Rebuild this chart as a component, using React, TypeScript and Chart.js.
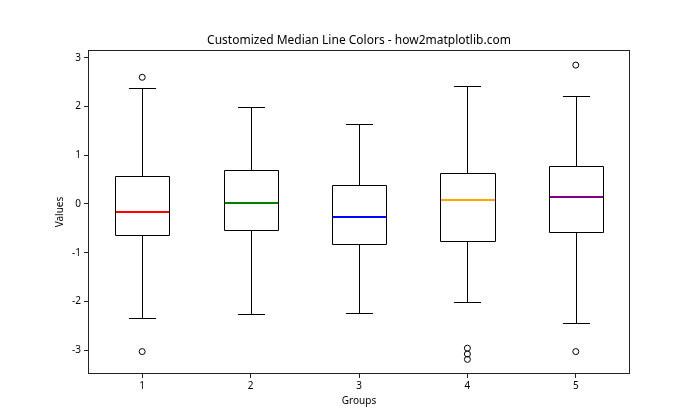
import React, { useEffect, useRef } from "react";
import { Chart, registerables } from "chart.js";

Chart.register(...registerables);

const categories = ["1", "2", "3", "4", "5"];
const whiskerLow = [-2.35, -2.25, -2.23, -2.02, -2.45];
const q1 = [-0.64, -0.54, -0.82, -0.77, -0.58];
const median = [-0.16, 0.02, -0.26, 0.08, 0.15];
const q3 = [0.57, 0.69, 0.38, 0.63, 0.78];
const whiskerHigh = [2.38, 1.99, 1.64, 2.42, 2.21];
const outlierGroups = ["1", "1", "4", "4", "4", "5", "5"];
const outlierValues = [2.6, -3.03, -2.96, -3.08, -3.19, 2.85, -3.03];
const medianColors = ["red", "green", "blue", "orange", "purple"];
const yTicks = [-3, -2, -1, 0, 1, 2, 3];
const titleText = "Customized Median Line Colors - how2matplotlib.com";

const FONT = "'Noto Sans', 'DejaVu Sans', sans-serif";

const boxPlugin = {
  id: "boxExtras",
  afterDatasetsDraw(chart: any) {
    const { ctx, chartArea, scales } = chart;
    const y = scales.y;
    const meta = chart.getDatasetMeta(0);
    ctx.save();
    ctx.lineWidth = 1;
    ctx.strokeStyle = "#000";
    meta.data.forEach((bar: any, i: number) => {
      const xc = Math.round(bar.x) + 0.5;
      const half = bar.width / 2;
      const cap = half / 2;
      const left = Math.round(bar.x - half) + 0.5;
      const right = Math.round(bar.x + half) + 0.5;
      const yHi = Math.round(y.getPixelForValue(whiskerHigh[i])) + 0.5;
      const yQ3 = Math.round(Math.min(bar.y, bar.base)) + 0.5;
      const yQ1 = Math.round(Math.max(bar.y, bar.base)) + 0.5;
      const yLo = Math.round(y.getPixelForValue(whiskerLow[i])) + 0.5;
      ctx.beginPath();
      ctx.rect(left, yQ3, right - left, yQ1 - yQ3);
      ctx.moveTo(xc, yQ3);
      ctx.lineTo(xc, yHi);
      ctx.moveTo(xc - cap, yHi);
      ctx.lineTo(xc + cap, yHi);
      ctx.moveTo(xc, yQ1);
      ctx.lineTo(xc, yLo);
      ctx.moveTo(xc - cap, yLo);
      ctx.lineTo(xc + cap, yLo);
      ctx.stroke();
      const ym = Math.round(y.getPixelForValue(median[i]));
      ctx.beginPath();
      ctx.lineWidth = 2;
      ctx.strokeStyle = medianColors[i];
      ctx.moveTo(left + 0.5, ym);
      ctx.lineTo(right - 0.5, ym);
      ctx.stroke();
      ctx.lineWidth = 1;
      ctx.strokeStyle = "#000";
    });
    ctx.strokeStyle = "#222";
    ctx.lineWidth = 1;
    ctx.strokeRect(
      Math.round(chartArea.left) + 0.5,
      Math.round(chartArea.top) + 0.5,
      Math.round(chartArea.right - chartArea.left) - 1,
      Math.round(chartArea.bottom - chartArea.top) - 1
    );
    ctx.fillStyle = "#000";
    ctx.font = `12px ${FONT}`;
    ctx.textAlign = "center";
    ctx.textBaseline = "middle";
    ctx.fillText(titleText, (chartArea.left + chartArea.right) / 2, 40.5);
    ctx.restore();
  },
};

export default function App() {
  const ref = useRef<HTMLCanvasElement>(null);
  useEffect(() => {
    if (!ref.current) return;
    const chart = new Chart(ref.current, {
      type: "bar",
      data: {
        labels: categories,
        datasets: [
          {
            type: "bar",
            data: categories.map((_, i) => [q1[i], q3[i]]) as any,
            backgroundColor: "rgba(255,255,255,0)",
            borderWidth: 0,
            barPercentage: 0.5,
            categoryPercentage: 1,
          } as any,
          {
            type: "line",
            data: outlierGroups.map((g, i) => ({ x: g, y: outlierValues[i] })) as any,
            showLine: false,
            pointRadius: 3,
            pointBorderWidth: 1,
            pointBorderColor: "#000",
            pointBackgroundColor: "rgba(255,255,255,0)",
          } as any,
        ],
      },
      options: {
        responsive: false,
        animation: false,
        layout: { padding: { left: 0, right: 70, top: 50, bottom: 0 } },
        plugins: {
          legend: { display: false },
          tooltip: { enabled: false },
          title: { display: false },
        },
        scales: {
          x: {
            type: "category",
            offset: true,
            grid: {
              display: true,
              drawOnChartArea: false,
              drawTicks: true,
              tickLength: 4,
              offset: false,
              color: "#222",
            },
            border: { display: false },
            ticks: { color: "#000", font: { family: FONT, size: 10 }, padding: 2, maxRotation: 0 },
            title: {
              display: true,
              text: "Groups",
              color: "#000",
              font: { family: FONT, size: 10 },
              padding: { top: 0, bottom: 13 },
            },
            afterFit: (s: any) => {
              s.height = 46;
            },
          },
          y: {
            type: "linear",
            min: -3.49,
            max: 3.16,
            grid: {
              display: true,
              drawOnChartArea: false,
              drawTicks: true,
              tickLength: 4,
              color: "#222",
            },
            border: { display: false },
            ticks: { color: "#000", font: { family: FONT, size: 10 }, padding: 3 },
            afterBuildTicks: (s: any) => {
              s.ticks = yTicks.map((v) => ({ value: v }));
            },
            title: {
              display: true,
              text: "Values",
              color: "#000",
              font: { family: FONT, size: 10 },
              padding: { top: 54, bottom: 0 },
            },
            afterFit: (s: any) => {
              s.width = 88;
            },
          },
        },
      } as any,
      plugins: [boxPlugin],
    });
    return () => chart.destroy();
  }, []);
  return (
    <div style={{ position: "fixed", left: 0, top: 0, width: 700, height: 420, background: "#fff" }}>
      <canvas ref={ref} width={700} height={420} style={{ display: "block" }} />
    </div>
  );
}
